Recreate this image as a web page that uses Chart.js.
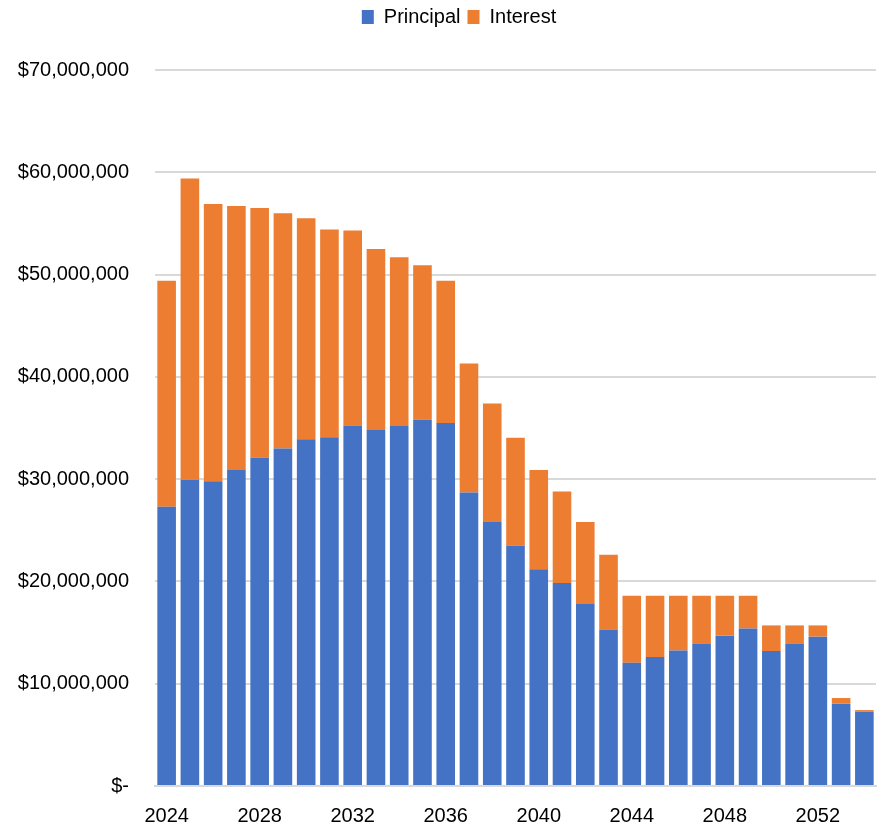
<!DOCTYPE html>
<html>
<head>
<meta charset="utf-8">
<script src="https://cdn.jsdelivr.net/npm/chart.js@4"></script>
<style>
html,body{margin:0;padding:0;background:#fff;}
#wrap{width:879px;height:828px;position:relative;}
</style>
</head>
<body>
<div id="wrap"><canvas id="c" width="879" height="828"></canvas></div>
<script>
const years = ['2024','2025','2026','2027','2028','2029','2030','2031','2032','2033','2034','2035','2036','2037','2038','2039','2040','2041','2042','2043','2044','2045','2046','2047','2048','2049','2050','2051','2052','2053','2054'];
const principal = [27.3,29.95,29.8,30.9,32.1,33.0,33.9,34.1,35.25,34.8,35.2,35.8,35.5,28.7,25.8,23.5,21.2,19.85,17.8,15.3,12.05,12.6,13.25,13.9,14.7,15.4,13.2,13.9,14.6,8.05,7.26];
const interest = [22.1,29.45,27.1,25.8,24.4,23.0,21.6,20.3,19.05,17.7,16.5,15.1,13.9,12.6,11.6,10.55,9.7,8.95,8.0,7.3,6.55,6.0,5.35,4.7,3.9,3.2,2.5,1.8,1.1,0.55,0.16];
const yTicks = [0,10,20,30,40,50,60,70];
const FONT = "'Liberation Sans Narrow','Arial Narrow','Liberation Sans',sans-serif";

function fmt(v){
  if (v === 0) return '$-';
  return '$' + (v*1000000).toLocaleString('en-US');
}

const legendMargin = {
  id:'legendMargin',
  beforeInit(chart){
    const orig = chart.legend.fit;
    chart.legend.fit = function(){ orig.call(this); this.height += 33; };
  },
  afterLayout(chart){
    chart.legend.left += 14;
    chart.legend.right += 14;
  }
};

new Chart(document.getElementById('c'), {
  type: 'bar',
  data: {
    labels: years,
    datasets: [
      {label:'Principal', data: principal.map(v=>v), backgroundColor:'#4472C4', borderWidth:0},
      {label:'Interest', data: interest.map(v=>v), backgroundColor:'#ED7D31', borderWidth:0}
    ]
  },
  plugins:[legendMargin],
  options: {
    responsive:false,
    animation:false,
    layout:{padding:{left:14,right:3,top:0,bottom:0}},
    datasets:{bar:{categoryPercentage:0.8,barPercentage:1}},
    plugins:{
      legend:{
        position:'top',
        labels:{font:{family:FONT,size:20},color:'#000',boxWidth:12,boxHeight:14,padding:7}
      },
      tooltip:{enabled:false}
    },
    scales:{
      x:{
        stacked:true,
        grid:{display:false},
        border:{display:true,color:'#d9d9d9',width:2},
        ticks:{
          autoSkip:false,maxRotation:0,color:'#000',
          font:{family:FONT,size:20},
          padding:10,
          callback:function(v,i){return i%4===0?years[i]:'';}
        },
        afterFit:function(s){s.height=42;}
      },
      y:{
        stacked:true,
        min:0,max:70,
        afterBuildTicks:function(s){s.ticks=yTicks.map(v=>({value:v}));},
        grid:{color:'#d9d9d9',lineWidth:2,drawTicks:false},
        border:{display:false},
        ticks:{
          color:'#000',font:{family:FONT,size:20},padding:26,
          callback:function(v){return fmt(v);}
        },
        afterFit:function(s){s.width=141;}
      }
    }
  }
});
</script>
</body>
</html>
